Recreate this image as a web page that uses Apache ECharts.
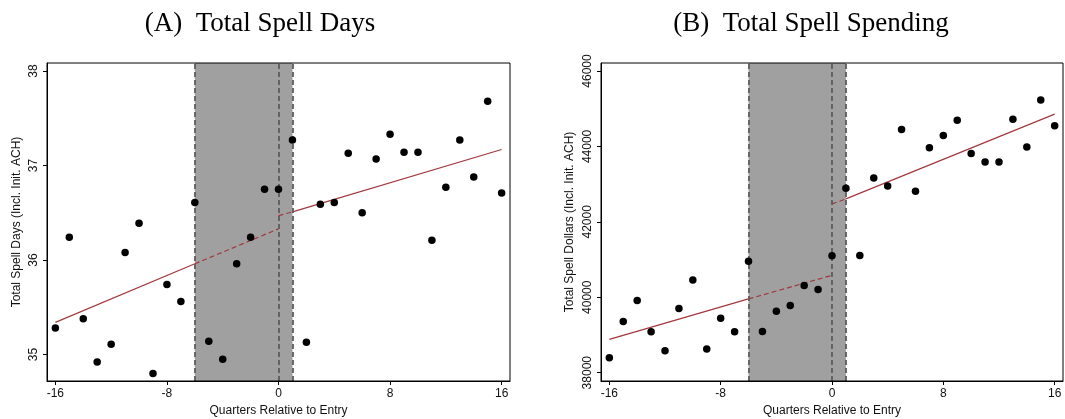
<!DOCTYPE html>
<html>
<head>
<meta charset="utf-8">
<script src="https://cdn.jsdelivr.net/npm/echarts@6/dist/echarts.min.js"></script>
<style>
  html, body { margin: 0; padding: 0; background: #fff; }
  #chart { width: 1065px; height: 419px; }
</style>
</head>
<body>
<div id="chart"></div>
<script>
// ---------- data ----------
const quarters = [-16,-15,-14,-13,-12,-11,-10,-9,-8,-7,-6,-5,-4,-3,-2,-1,0,1,2,3,4,5,6,7,8,9,10,11,12,13,14,15,16];

const spellDays = [35.28,36.24,35.38,34.92,35.11,36.08,36.39,34.80,35.74,35.56,36.61,35.14,34.95,35.96,36.24,36.75,
                   36.75,37.27,35.13,36.59,36.61,37.13,36.50,37.07,37.33,37.14,37.14,36.21,36.77,37.27,36.88,37.68,36.71];

const spellDollars = [38397,39357,39912,39084,38582,39701,40459,38626,39445,39084,40952,39093,39630,39780,40309,40203,
                      41102,42890,41111,43163,42952,44449,42811,43965,44291,44696,43815,43586,43586,44722,43983,45234,44546];

// fitted lines: pre-period x's and post-period x's
const fitPreX = [-16, -6, 0];
const fitPostX = [0, 1, 16];
const fitDaysPre = [35.34, 35.96, 36.33];
const fitDaysPost = [36.47, 36.51, 37.17];
const fitDollarsPre = [38882, 39956, 40582];
const fitDollarsPost = [42476, 42608, 44855];

// shaded window and cut-off
const bandStart = -6, bandEnd = 1, cutoff = 0;

const xTicks = [-16, -8, 0, 8, 16];
const daysTicks = [35, 36, 37, 38];
const dollarTicks = [38000, 40000, 42000, 44000, 46000];

const titles = ['(A)  Total Spell Days', '(B)  Total Spell Spending'];
const xName = 'Quarters Relative to Entry';
const yNames = ['Total Spell Days (Incl. Init. ACH)', 'Total Spell Dollars (Incl. Init. ACH)'];

// ---------- chart ----------
const chart = echarts.init(document.getElementById('chart'), null, {renderer: 'canvas'});
const sans = 'Liberation Sans, Arial, sans-serif';
const fitColor = '#a2383d';
const vColor = '#5c5c5c';

function xAxisCfg(gi) {
  return {
    type: 'value', gridIndex: gi, min: -16.6, max: 16.6,
    name: xName, nameLocation: 'middle', nameGap: 22,
    nameTextStyle: {fontFamily: sans, fontSize: 12, color: '#111'},
    axisLine: {show: true, onZero: false, lineStyle: {color: '#000', width: 1}},
    axisTick: {show: true, length: 4, customValues: xTicks, lineStyle: {color: '#000'}},
    axisLabel: {show: true, customValues: xTicks, fontFamily: sans, fontSize: 12, color: '#111', margin: 7},
    splitLine: {show: false}, z: 10
  };
}
function yAxisCfg(gi, min, max, ticks, name, gap) {
  return {
    type: 'value', gridIndex: gi, min: min, max: max,
    name: name, nameLocation: 'middle', nameGap: gap,
    nameTextStyle: {fontFamily: sans, fontSize: 12, color: '#111'},
    axisLine: {show: true, onZero: false, lineStyle: {color: '#000', width: 1}},
    axisTick: {show: true, length: 4, customValues: ticks, lineStyle: {color: '#000'}},
    axisLabel: {show: true, customValues: ticks, rotate: 90, fontFamily: sans, fontSize: 12, color: '#111', margin: 7,
                formatter: v => String(v)},
    splitLine: {show: false}, z: 10
  };
}

function pairs(xs, ys, from, to) {
  const out = [];
  for (let i = from; i <= to; i++) out.push([xs[i], ys[i]]);
  return out;
}

function panelSeries(gi, values, pre, post) {
  const lineBase = {type: 'line', xAxisIndex: gi, yAxisIndex: gi, symbol: 'none', silent: true, z: 3, animation: false};
  return [
    {
      type: 'scatter', xAxisIndex: gi, yAxisIndex: gi, data: [], silent: true, z: 1, animation: false,
      markArea: {
        silent: true,
        itemStyle: {color: '#a0a0a0', opacity: 1},
        data: [[{xAxis: bandStart}, {xAxis: bandEnd}]]
      },
      markLine: {
        silent: true, symbol: ['none', 'none'], label: {show: false},
        lineStyle: {color: vColor, width: 1.8, type: [5, 3], opacity: 1},
        data: [{xAxis: bandStart}, {xAxis: cutoff}, {xAxis: bandEnd}]
      }
    },
    Object.assign({}, lineBase, {data: pairs(fitPreX, pre, 0, 1), lineStyle: {color: fitColor, width: 1.2, type: 'solid'}}),
    Object.assign({}, lineBase, {data: pairs(fitPreX, pre, 1, 2), lineStyle: {color: fitColor, width: 1.2, type: [5, 3]}}),
    Object.assign({}, lineBase, {data: pairs(fitPostX, post, 0, 1), lineStyle: {color: fitColor, width: 1.2, type: [5, 3]}}),
    Object.assign({}, lineBase, {data: pairs(fitPostX, post, 1, 2), lineStyle: {color: fitColor, width: 1.2, type: 'solid'}}),
    {
      type: 'scatter', xAxisIndex: gi, yAxisIndex: gi, symbol: 'circle', symbolSize: 7.5,
      itemStyle: {color: '#000', opacity: 1}, silent: true, z: 5, animation: false,
      data: quarters.map((q, i) => [q, values[i]])
    }
  ];
}

const option = {
  backgroundColor: '#fff',
  animation: false,
  graphic: [
    {type: 'text', x: 260, y: 24, z: 20, style: {text: titles[0], fill: '#000', font: '27px "Liberation Serif", "Times New Roman", serif', align: 'center', verticalAlign: 'middle'}},
    {type: 'text', x: 811, y: 24, z: 20, style: {text: titles[1], fill: '#000', font: '27px "Liberation Serif", "Times New Roman", serif', align: 'center', verticalAlign: 'middle'}}
  ],
  grid: [
    {left: 47, right: 555, top: 63, bottom: 38, show: true, borderColor: '#000', borderWidth: 1, backgroundColor: 'transparent', z: 10, outerBoundsMode: 'none', containLabel: false},
    {left: 601, right: 2, top: 63, bottom: 38, show: true, borderColor: '#000', borderWidth: 1, backgroundColor: 'transparent', z: 10, outerBoundsMode: 'none', containLabel: false}
  ],
  xAxis: [xAxisCfg(0), xAxisCfg(1)],
  yAxis: [
    yAxisCfg(0, 34.72, 38.085, daysTicks, yNames[0], 24),
    yAxisCfg(1, 37780, 46212, dollarTicks, yNames[1], 25)
  ],
  series: [].concat(
    panelSeries(0, spellDays, fitDaysPre, fitDaysPost),
    panelSeries(1, spellDollars, fitDollarsPre, fitDollarsPost)
  )
};
chart.setOption(option);
</script>
</body>
</html>
